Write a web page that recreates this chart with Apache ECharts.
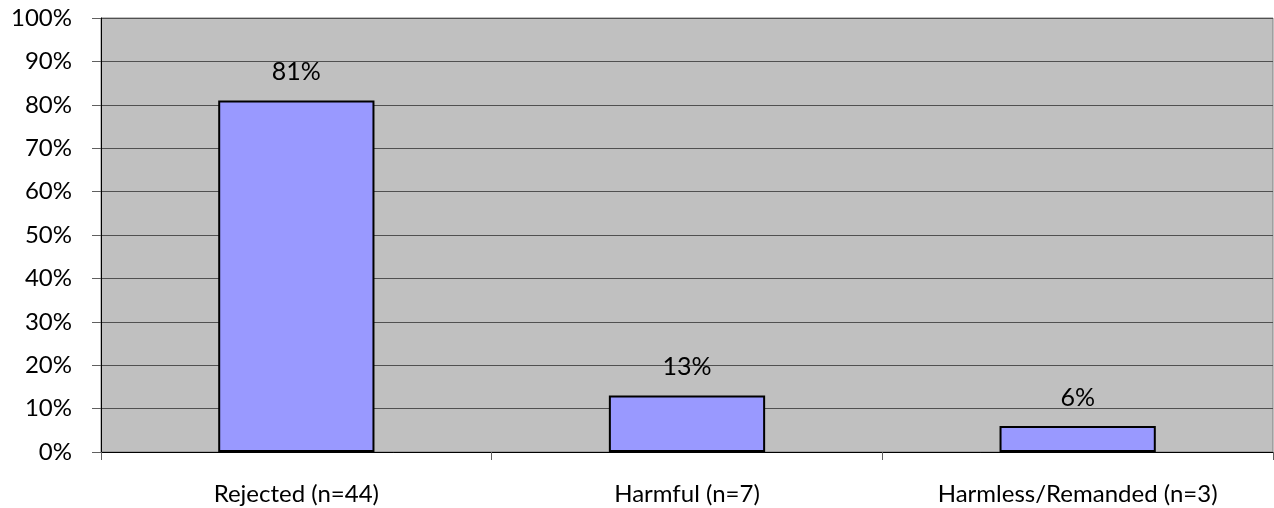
<!DOCTYPE html>
<html><head><meta charset="utf-8">
<script src="https://cdn.jsdelivr.net/npm/echarts@6/dist/echarts.min.js"></script>
<style>html,body{margin:0;padding:0;background:#fff}#c{width:1274px;height:508px}</style>
</head><body><div id="c"></div>
<script>
const categories = ['Rejected (n=44)', 'Harmful (n=7)', 'Harmless/Remanded (n=3)'];
const values = [81, 13, 6];
const yTicks = [0, 10, 20, 30, 40, 50, 60, 70, 80, 90, 100];

const chart = echarts.init(document.getElementById('c'));
const font = 'Lato';
chart.setOption({
  animation: false,
  grid: { left: 101, right: 1, top: 18, bottom: 56, show: true, backgroundColor: '#C0C0C0', borderColor: '#808080', borderWidth: 1 },
  xAxis: {
    type: 'category', data: categories,
    axisLine: { lineStyle: { color: '#000', width: 1 } },
    axisTick: { show: true, length: 8, lineStyle: { color: '#606060' } },
    axisLabel: { color: '#000', fontSize: 24, fontFamily: font, margin: 30 }
  },
  yAxis: {
    type: 'value', min: 0, max: 100, interval: 10,
    axisLine: { show: true, lineStyle: { color: '#000', width: 1 } },
    axisTick: { show: true, length: 9, lineStyle: { color: '#606060' } },
    splitLine: { lineStyle: { color: '#505050', width: 1 } },
    axisLabel: { color: '#000', fontSize: 24, fontFamily: font, margin: 29, formatter: v => yTicks.includes(v) ? v + '%' : '' }
  },
  series: [{
    type: 'bar', data: values, barWidth: '40%',
    itemStyle: { color: '#9999FF', borderColor: '#000', borderWidth: 2 },
    label: { show: true, position: 'top', distance: 16, color: '#000', fontSize: 25, fontFamily: font, formatter: p => p.value + '%' }
  }]
});
</script></body></html>
